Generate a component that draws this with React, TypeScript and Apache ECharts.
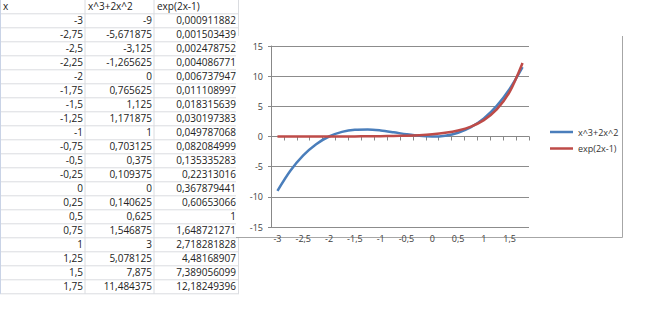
import React, { useEffect, useRef } from "react";
import * as echarts from "echarts";

const xValues = [-3, -2.75, -2.5, -2.25, -2, -1.75, -1.5, -1.25, -1, -0.75, -0.5, -0.25, 0, 0.25, 0.5, 0.75, 1, 1.25, 1.5, 1.75];
const cubicValues = [-9, -5.671875, -3.125, -1.265625, 0, 0.765625, 1.125, 1.171875, 1, 0.703125, 0.375, 0.109375, 0, 0.140625, 0.625, 1.546875, 3, 5.078125, 7.875, 11.484375];
const expValues = [0.000911882, 0.001503439, 0.002478752, 0.004086771, 0.006737947, 0.011108997, 0.018315639, 0.030197383, 0.049787068, 0.082084999, 0.135335283, 0.22313016, 0.367879441, 0.60653066, 1, 1.648721271, 2.718281828, 4.48168907, 7.389056099, 12.18249396];
const headers = ["x", "x^3+2x^2", "exp(2x-1)"];
const seriesNames = ["x^3+2x^2", "exp(2x-1)"];

const fmt = (v: number) => String(v).replace(".", ",");

const FONT_TABLE = "10px 'Open Sans', 'Noto Sans', sans-serif";
const colRight = [83, 152, 236];
const colLeft = [3, 88, 157];
const colLines = [85, 154, 238.5];
const rowH = 14;
const headerY = 6.3;
const firstRowY = 20.3;

export default function App() {
  const ref = useRef<HTMLDivElement>(null);
  useEffect(() => {
    document.body.style.margin = "0";
    const chart = echarts.init(ref.current!, undefined, { renderer: "svg" });
    const graphics: any[] = [];
    const nRows = xValues.length + 1;
    for (let i = 0; i <= nRows; i++) {
      const y = 13.3 + rowH * (i - 1) + 0.5;
      if (y < 0) continue;
      graphics.push({ type: "line", z: -20, shape: { x1: 0, y1: y, x2: 239, y2: y }, style: { stroke: "#dadce0", lineWidth: 1 } });
    }
    colLines.forEach((x) => {
      graphics.push({ type: "line", z: -20, shape: { x1: x, y1: 0, x2: x, y2: 293.8 }, style: { stroke: "#dadce0", lineWidth: 1 } });
    });
    graphics.push({ type: "line", z: -20, shape: { x1: 0.5, y1: 0, x2: 0.5, y2: 293.8 }, style: { stroke: "#c9d3e6", lineWidth: 1 } });
    headers.forEach((h, c) => {
      graphics.push({ type: "text", z: -5, style: { text: h, x: colLeft[c], y: headerY, align: "left", verticalAlign: "middle", font: FONT_TABLE, fill: "#222" } });
    });
    xValues.forEach((x, r) => {
      const y = firstRowY + rowH * r;
      [x, cubicValues[r], expValues[r]].forEach((v, c) => {
        graphics.push({ type: "text", z: -5, style: { text: fmt(v), x: colRight[c], y, align: "right", verticalAlign: "middle", font: FONT_TABLE, fill: "#222" } });
      });
    });
    graphics.push({ type: "rect", z: -10, shape: { x: 236, y: 36, width: 386, height: 201 }, style: { fill: "#fff" } });
    graphics.push({ type: "line", z: -9, shape: { x1: 622.5, y1: 36, x2: 622.5, y2: 237.5 }, style: { stroke: "#a6a6a6", lineWidth: 1 } });
    graphics.push({ type: "line", z: -9, shape: { x1: 236, y1: 237.5, x2: 622.5, y2: 237.5 }, style: { stroke: "#a6a6a6", lineWidth: 1 } });

    const axisFont = { fontFamily: "'Open Sans', 'Noto Sans', sans-serif", fontSize: 9, color: "#404040" };
    chart.setOption({
      animation: false,
      graphic: { elements: graphics },
      grid: { left: 271, right: 118, top: 46, bottom: 88, containLabel: false },
      legend: {
        orient: "vertical",
        left: 545,
        top: 121,
        itemWidth: 23,
        itemHeight: 2.5,
        itemGap: 4.5,
        icon: "rect",
        textStyle: { ...axisFont, color: "#333", lineHeight: 12 },
        data: seriesNames,
      },
      xAxis: {
        type: "category",
        data: xValues.map(fmt),
        boundaryGap: true,
        axisLine: { onZero: true, lineStyle: { color: "#888", width: 1 } },
        axisTick: { show: true, interval: 0, alignWithLabel: false, length: 4, lineStyle: { color: "#888" } },
        axisLabel: { interval: 1, margin: 7, ...axisFont },
        splitLine: { show: false },
      },
      yAxis: {
        type: "value",
        min: -15,
        max: 15,
        interval: 5,
        axisLine: { show: true, lineStyle: { color: "#888", width: 1 } },
        axisTick: { show: true, length: 3, lineStyle: { color: "#888" } },
        axisLabel: { margin: 8, ...axisFont },
        splitLine: { show: true, lineStyle: { color: "#8c8c8c", width: 1 } },
      },
      series: [
        { name: seriesNames[0], type: "line", data: cubicValues, smooth: 0.3, symbol: "none", lineStyle: { color: "#4A7EBB", width: 2.5 }, itemStyle: { color: "#4A7EBB" } },
        { name: seriesNames[1], type: "line", data: expValues, smooth: 0.3, symbol: "none", lineStyle: { color: "#BE4B48", width: 2.5 }, itemStyle: { color: "#BE4B48" } },
      ],
    });
    return () => chart.dispose();
  }, []);
  return <div ref={ref} style={{ position: "absolute", left: 0, top: 0, width: 647, height: 315, background: "#fff" }} />;
}
